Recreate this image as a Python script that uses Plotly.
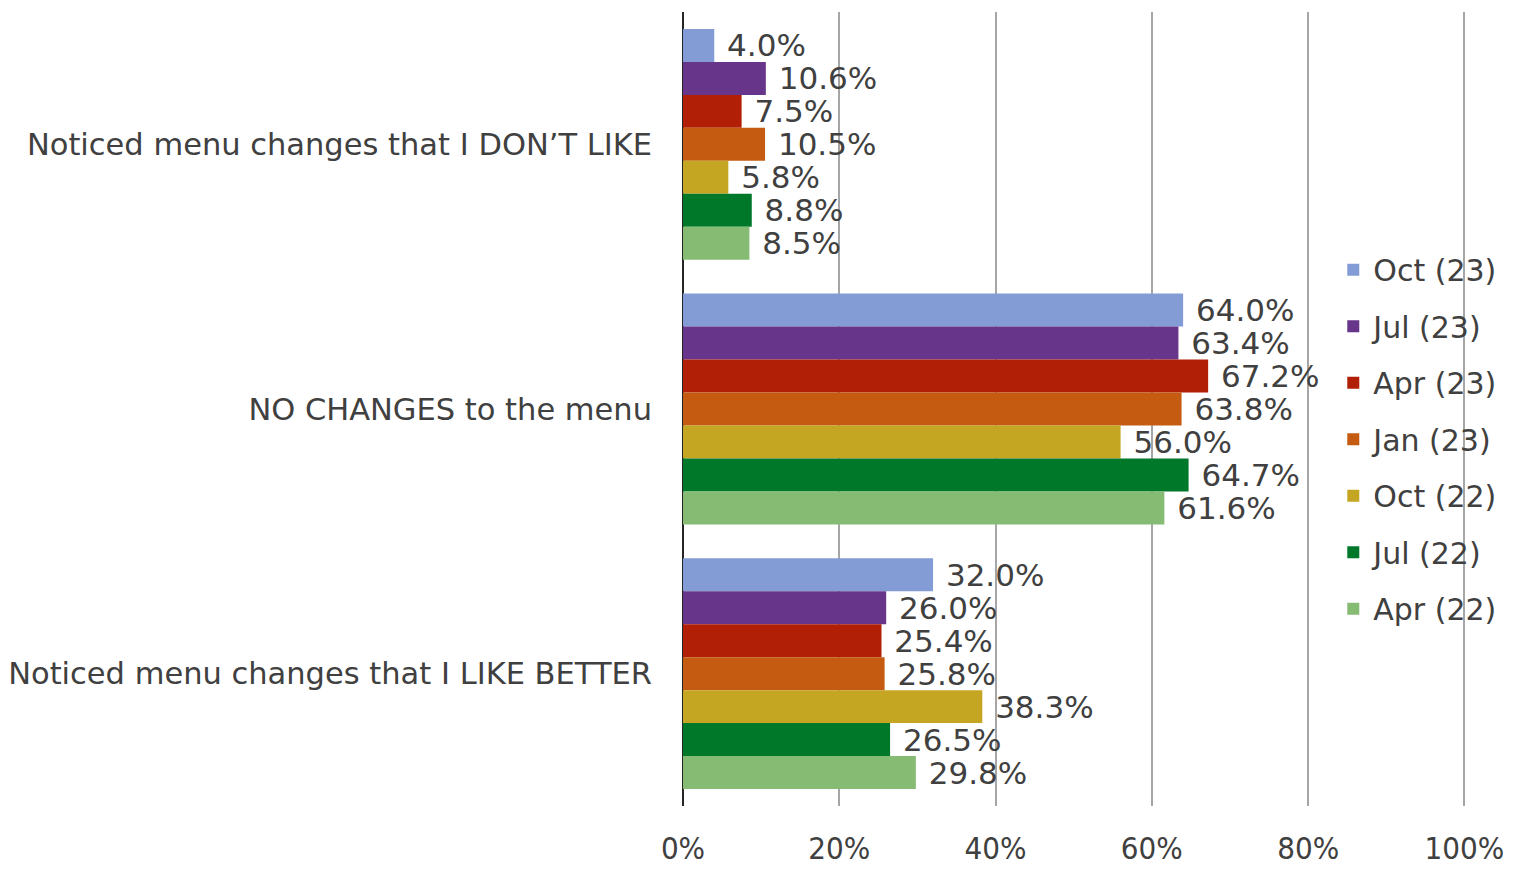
import plotly.graph_objects as go

categories = ["Noticed menu changes that I DON’T LIKE",
              "NO CHANGES to the menu",
              "Noticed menu changes that I LIKE BETTER"]
series_names = ["Oct (23)", "Jul (23)", "Apr (23)", "Jan (23)", "Oct (22)", "Jul (22)", "Apr (22)"]
oct23 = [4.0, 64.0, 32.0]
jul23 = [10.6, 63.4, 26.0]
apr23 = [7.5, 67.2, 25.4]
jan23 = [10.5, 63.8, 25.8]
oct22 = [5.8, 56.0, 38.3]
jul22 = [8.8, 64.7, 26.5]
apr22 = [8.5, 61.6, 29.8]
series_values = [oct23, jul23, apr23, jan23, oct22, jul22, apr22]
colors = ["#839CD5", "#67358A", "#B01F06", "#C55A11", "#C4A622", "#00782A", "#86BB74"]
x_tickvals = [0, 20, 40, 60, 80, 100]
x_ticktext = ["0%", "20%", "40%", "60%", "80%", "100%"]

FONT = "DejaVu Sans"
TXT = "#404040"

fig = go.Figure()
for i, (name, vals) in enumerate(zip(series_names, series_values)):
    fig.add_trace(go.Bar(
        y=categories, x=vals, name=name, orientation="h",
        marker=dict(color=colors[i], line=dict(width=0)),
        text=[f"{v:.1f}%" for v in vals],
        texttemplate=" %{text}",
        textposition="outside",
        constraintext="none",
        cliponaxis=False,
        textfont=dict(family=FONT, size=31, color=TXT),
        legendgroup=f"g{i}",
    ))

fig.update_layout(
    width=1523, height=870,
    margin=dict(l=683, r=57, t=12, b=64, autoexpand=False),
    paper_bgcolor="white", plot_bgcolor="white",
    barmode="group", bargap=0.128, bargroupgap=0,
    font=dict(family=FONT, color=TXT),
    legend=dict(
        x=0.8305, xanchor="left", y=0.462, yanchor="middle",
        bgcolor="rgba(0,0,0,0)",
        font=dict(family=FONT, size=30, color=TXT),
        tracegroupgap=14.5,
        traceorder="grouped",
    ),
    showlegend=True,
)
fig.update_xaxes(
    range=[0, 100.2], tickvals=x_tickvals, ticktext=x_ticktext,
    showgrid=True, gridcolor="#A6A6A6", gridwidth=2,
    zeroline=True, zerolinecolor="#262626", zerolinewidth=2,
    showline=False, automargin=False,
    tickfont=dict(family="DejaVu Sans Condensed", size=31, color=TXT),
    ticks="", ticklabelstandoff=21,
)
fig.update_yaxes(
    autorange="reversed", categoryorder="array", categoryarray=categories,
    showgrid=False, showline=False, zeroline=False, automargin=False,
    tickfont=dict(family=FONT, size=30.5, color=TXT),
    ticks="", ticklabelstandoff=30,
)

fig.write_html("out.html")
